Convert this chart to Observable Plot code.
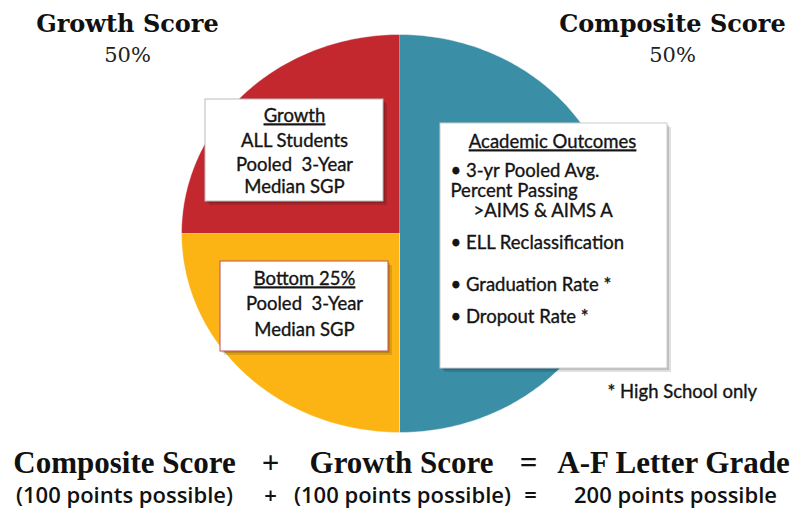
<!DOCTYPE html>
<html><head><meta charset="utf-8">
<script src="https://cdn.jsdelivr.net/npm/d3@7"></script>
<script src="https://cdn.jsdelivr.net/npm/@observablehq/plot@0.6"></script>
<style>body{margin:0;background:#fff}</style>
</head><body><div id="chart"></div>
<script>
// ---- data ----
const sliceLabels = ["Composite Score", "Bottom 25%", "Growth"];
const sliceValues = [50, 25, 25];
const sliceColors = ["#3A8EA6", "#FCB415", "#C2282E"];

const headTitles = ["Growth Score", "Composite Score"];
const headShares = ["50%", "50%"];

const growthLines = ["Growth", "ALL Students", "Pooled  3-Year", "Median SGP"];
const bottomLines = ["Bottom 25%", "Pooled  3-Year", "Median SGP"];
const academicTitle = "Academic Outcomes";
const academicLines = ["• 3-yr Pooled Avg.", "Percent Passing", ">AIMS & AIMS A", "• ELL Reclassification", "• Graduation Rate *", "• Dropout Rate *"];
const footnote = "* High School only";

const formulaTop = ["Composite Score", "+", "Growth Score", "=", "A-F Letter Grade"];
const formulaBottom = ["(100 points possible)", "+", "(100 points possible)", "=", "200 points possible"];

// ---- layout ----
const W = 802, H = 510;
const cx = 399, cy = 233, rx = 218, ry = 199;

const arcs = d3.pie().sort(null)(sliceValues);
const piePts = [];
arcs.forEach((a, i) => {
  const label = sliceLabels[i];
  piePts.push({label, x: cx, y: cy});
  const n = Math.max(8, Math.ceil((a.endAngle - a.startAngle) / (Math.PI / 180)));
  for (let k = 0; k <= n; k++) {
    const t = a.startAngle + (a.endAngle - a.startAngle) * k / n;
    piePts.push({label, x: cx + rx * Math.sin(t), y: cy - ry * Math.cos(t)});
  }
});

const boxes = [
  {name: "growth", x1: 205, y1: 99, x2: 383, y2: 201, stroke: "#bbb"},
  {name: "bottom", x1: 220, y1: 261, x2: 388, y2: 351, stroke: "#c0504d"},
  {name: "academic", x1: 440, y1: 123, x2: 667, y2: 368, stroke: "#ccc"}
];

const growthY = [116, 141, 165, 187];
const bottomY = [279, 304, 330];
const acadX = [450, 450, 473, 450, 450, 450];
const acadY = [171, 191, 211, 243, 285, 317];

const headX = [127, 672];
const formulaX = [124, 270, 401, 528, 673];
const formulaX2 = [124, 270, 402, 530, 675];

const boxFont = "Lato, 'Open Sans', sans-serif";
const serif = "'DejaVu Serif', Georgia, serif";
const boxSize = 18.5;

const textsUnder = [
  {t: growthLines[0], x: 294, y: growthY[0]},
  {t: bottomLines[0], x: 304, y: bottomY[0]},
  {t: academicTitle, x: 552, y: 142}
];
const textsCenter = [
  ...growthLines.slice(1).map((t, i) => ({t, x: 294, y: growthY[i + 1]})),
  ...bottomLines.slice(1).map((t, i) => ({t, x: 304, y: bottomY[i + 1]}))
];
const textsLeft = [
  ...academicLines.map((t, i) => ({t, x: acadX[i], y: acadY[i]})),
  {t: footnote, x: 607, y: 392}
];

const boxText = {fontFamily: boxFont, fontSize: boxSize, fill: "#141414", stroke: "#141414", strokeWidth: 0.35};

const chart = Plot.plot({
  width: W, height: H, margin: 0,
  x: {domain: [0, W], range: [0, W], axis: null},
  y: {domain: [0, H], range: [0, H], axis: null},
  color: {domain: sliceLabels, range: sliceColors},
  marks: [
    Plot.line(piePts, {x: "x", y: "y", z: "label", fill: "label", stroke: "white", strokeOpacity: 0.45, strokeWidth: 1}),
    Plot.rect(boxes, {x1: "x1", y1: "y1", x2: "x2", y2: "y2", fill: "#000", fillOpacity: 0.12, dx: 4, dy: 4}),
    Plot.rect(boxes, {x1: "x1", y1: "y1", x2: "x2", y2: "y2", fill: "#000", fillOpacity: 0.15, dx: 2, dy: 2}),
    Plot.rect(boxes, {x1: "x1", y1: "y1", x2: "x2", y2: "y2", fill: "white", stroke: d => d.stroke, strokeWidth: 1}),
    Plot.text(textsUnder, {x: "x", y: "y", text: "t", ...boxText}),
    Plot.text(textsCenter, {x: "x", y: "y", text: "t", ...boxText}),
    Plot.text(textsLeft, {x: "x", y: "y", text: "t", ...boxText, textAnchor: "start"}),
    Plot.text(headTitles, {x: (d, i) => headX[i], y: 24, text: d => d, fontFamily: serif, fontWeight: "bold", fontSize: 24, fill: "#111"}),
    Plot.text(headShares, {x: (d, i) => headX[i], y: 55, text: d => d, fontFamily: serif, fontSize: 21, fill: "#222"}),
    Plot.text(formulaTop, {x: (d, i) => formulaX[i], y: 463, text: d => d, fontFamily: "'Liberation Serif', 'Times New Roman', serif", fontWeight: "bold", fontSize: 31, fill: "#111"}),
    Plot.text(formulaBottom, {x: (d, i) => formulaX2[i], y: 495, text: d => d, fontFamily: "'Open Sans', sans-serif", fontSize: 22, fontWeight: 600, fill: "#111"})
  ]
});
const underSet = new Set(textsUnder.map(d => d.t));
d3.select(chart).selectAll("text").filter(function() { return underSet.has(this.textContent); })
  .style("text-decoration", "underline");
document.getElementById("chart").appendChild(chart);
</script>
</body></html>
